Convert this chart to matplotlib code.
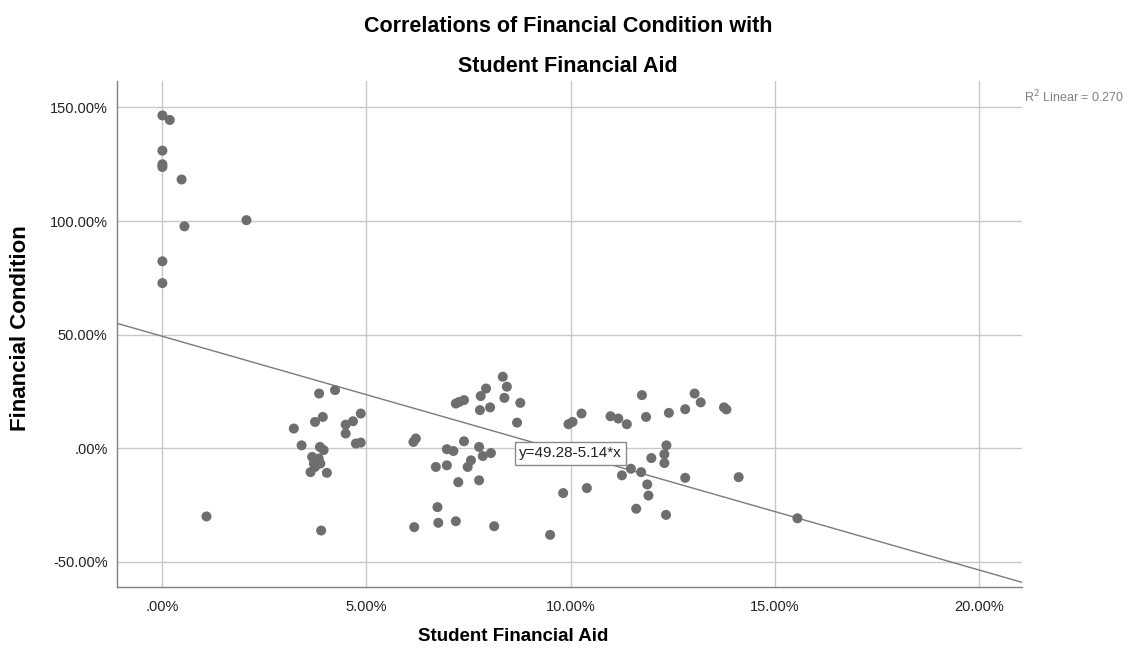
import matplotlib.pyplot as plt
import matplotlib.ticker as mticker
import numpy as np

plt.rcParams['font.family'] = ['Liberation Sans', 'DejaVu Sans']

# student financial aid (%) vs financial condition (%)
aid = [0.00, 0.18, 0.00, 0.00, 0.00, 0.47, 2.06, 0.54, 0.00, 0.00, 1.08,
       3.84, 4.23, 4.86, 3.93, 3.74, 3.22, 4.49, 4.67, 4.49, 4.74, 4.86,
       3.41, 3.86, 3.95, 3.67, 3.83, 3.71, 3.87, 3.74, 3.63, 4.03, 3.89,
       8.34, 8.44, 7.93, 7.80, 8.38, 7.39, 7.19, 7.27, 8.77, 8.03, 7.78,
       8.69, 6.21, 6.15, 7.39, 6.97, 7.13, 7.76, 7.85, 8.05, 7.56, 7.48,
       6.70, 6.97, 7.25, 7.76, 6.74, 6.76, 6.17, 7.19, 8.13, 9.50,
       9.82, 11.75, 13.04, 13.19, 13.76, 13.82, 12.81, 12.41, 11.85, 10.27,
       10.05, 9.95, 10.98, 11.17, 11.38, 12.35, 12.30, 12.30, 11.98, 11.48,
       11.73, 11.26, 12.81, 14.12, 11.88, 11.91, 10.40, 11.61, 12.34, 15.56]
condition = [146.5, 144.5, 131.0, 125.0, 123.8, 118.3, 100.4, 97.7, 82.3, 72.7, -30.0,
             24.1, 25.6, 15.3, 13.8, 11.6, 8.7, 10.4, 11.9, 6.5, 2.1, 2.5,
             1.3, 0.6, -0.8, -3.8, -4.5, -6.7, -6.7, -8.2, -10.5, -10.8, -36.2,
             31.5, 27.1, 26.3, 23.0, 22.2, 21.2, 19.7, 20.4, 20.0, 18.0, 16.8,
             11.3, 4.3, 2.8, 3.1, -0.4, -1.2, 0.6, -3.4, -2.1, -5.3, -8.2,
             -8.2, -7.5, -14.9, -14.1, -25.9, -32.8, -34.7, -32.1, -34.3, -38.1,
             -19.7, 23.4, 24.1, 20.2, 18.0, 17.1, 17.2, 15.6, 13.8, 15.3,
             11.6, 10.6, 14.1, 13.1, 10.6, 1.3, -2.6, -6.5, -4.3, -9.0,
             -10.5, -11.9, -13.0, -12.7, -15.9, -20.8, -17.5, -26.6, -29.3, -30.8]

intercept = 49.28
slope = -5.14
r_squared = 0.270

xticks = [0, 5, 10, 15, 20]
yticks = [-50, 0, 50, 100, 150]

fig = plt.figure(figsize=(11.43, 6.56), dpi=100)
ax = fig.add_axes([0.1021, 0.105, 0.7923, 0.771])

ax.set_xlim(-1.12, 21.07)
ax.set_ylim(-61.1, 161.5)
ax.set_xticks(xticks)
ax.set_yticks(yticks)

def pct(v, pos):
    s = '%.2f%%' % v
    return s[1:] if s.startswith('0.') else s

ax.xaxis.set_major_formatter(mticker.FuncFormatter(pct))
ax.yaxis.set_major_formatter(mticker.FuncFormatter(pct))
ax.grid(True, color='#c8c8c8', linewidth=1.0, zorder=0)
ax.set_axisbelow(True)

for side in ['top', 'right']:
    ax.spines[side].set_visible(False)
for side in ['left', 'bottom']:
    ax.spines[side].set_color('#808080')
    ax.spines[side].set_linewidth(1.0)
ax.tick_params(length=0, labelsize=10.5, colors='#222222')
ax.tick_params(axis='y', pad=6.5)
ax.tick_params(axis='x', pad=9)

# fit line
xs = np.array(ax.get_xlim())
ax.plot(xs, intercept + slope * xs, color='#7a7a7a', linewidth=1.0, zorder=2)

ax.scatter(aid, condition, s=52, color='#6e6e6e', edgecolors='none', zorder=3)

ax.text(10, intercept + slope * 10, 'y=%.2f%.2f*x' % (intercept, slope),
        ha='center', va='center', fontsize=11, color='#222222', zorder=4,
        bbox=dict(boxstyle='square,pad=0.3', facecolor='white', edgecolor='#8a8a8a', linewidth=1.0))

fig.text(0.896, 0.852, 'R$^2$ Linear = %.3f' % r_squared, fontsize=9, color='#808080',
         ha='left', va='center')

fig.text(0.497, 0.960, 'Correlations of Financial Condition with', ha='center', va='center',
         fontsize=15.5, fontweight='bold')
fig.text(0.497, 0.899, 'Student Financial Aid', ha='center', va='center',
         fontsize=15.5, fontweight='bold')

fig.text(0.449, 0.030, 'Student Financial Aid', ha='center', va='center',
         fontsize=13.5, fontweight='bold')
fig.text(0.018, 0.50, 'Financial Condition', ha='center', va='center', rotation=90,
         fontsize=16, fontweight='bold')

fig.savefig('out.png', dpi=100)
